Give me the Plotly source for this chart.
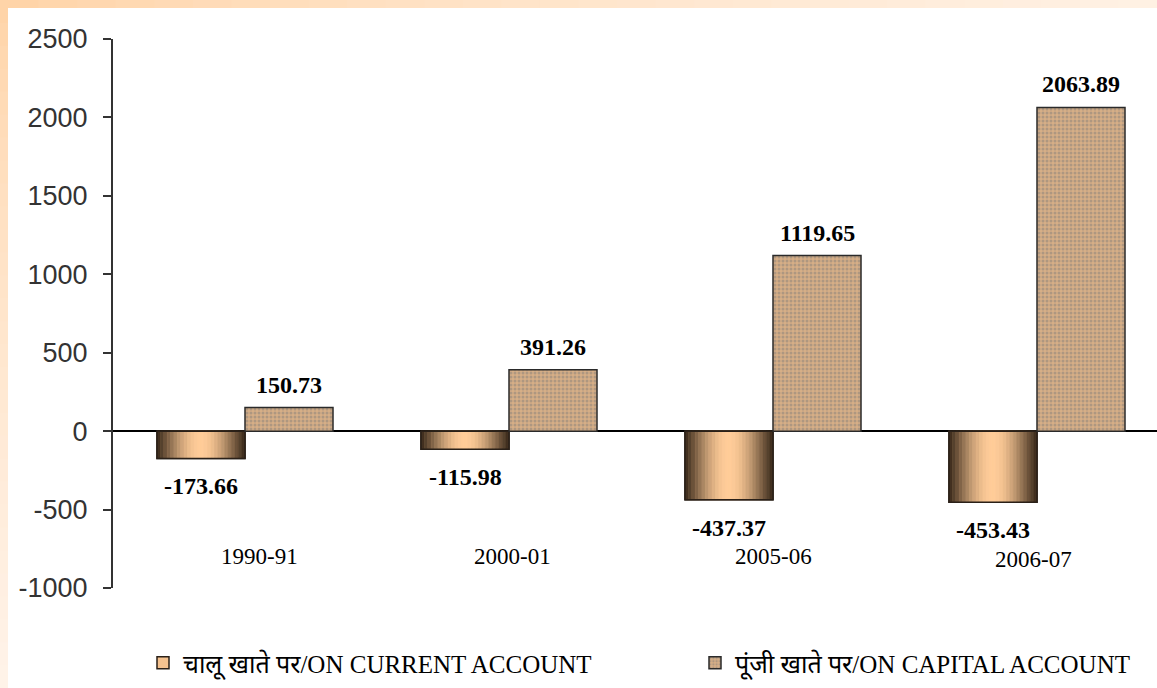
import math
import plotly.graph_objects as go

# ---------------- data ----------------
categories = ["1990-91", "2000-01", "2005-06", "2006-07"]
current_account = [-173.66, -115.98, -437.37, -453.43]
capital_account = [150.73, 391.26, 1119.65, 2063.89]
current_name = "चालू खाते पर/ON CURRENT ACCOUNT"
capital_name = "पूंजी खाते पर/ON CAPITAL ACCOUNT"
y_ticks = [-1000, -500, 0, 500, 1000, 1500, 2000, 2500]
y_tick_text = ["-1000", "-500", "0", "500", "1000", "1500", "2000", "2500"]

# ---------------- layout geometry ----------------
W, H = 1157, 688
ML, MR, MT, MB = 113, 0, 39, 100
PW, PH = W - ML - MR, H - MT - MB

def px2x(px):
    return (px - ML) / PW

def px2y(py):
    return (H - MB - py) / PH

xs = list(range(len(categories)))
BW = 1 / 3  # bar width in category units

fig = go.Figure()

dark = (58, 42, 27)
peach = (255, 204, 153)

# legend / base trace for current account
fig.add_trace(go.Bar(
    x=xs, y=current_account, offset=-BW, width=BW,
    name=current_name, legend="legend",
    marker=dict(color="#f5c28f", line=dict(color="#2a2018", width=1.5)),
    showlegend=True, hoverinfo="skip",
))

# gradient slices (cylinder shading)
N = 26
for k in range(N):
    t = (k + 0.5) / N
    f = math.sin(math.pi * t) ** 1.15
    c = tuple(int(round(dark[i] + (peach[i] - dark[i]) * f)) for i in range(3))
    col = "rgb(%d,%d,%d)" % c
    fig.add_trace(go.Bar(
        x=xs, y=current_account, offset=-BW + k * BW / N, width=BW / N,
        marker=dict(color=col, line=dict(color=col, width=0.6)),
        showlegend=False, hoverinfo="skip",
    ))

# outline on top
fig.add_trace(go.Bar(
    x=xs, y=current_account, offset=-BW, width=BW,
    marker=dict(color="rgba(0,0,0,0)", line=dict(color="#2a2018", width=1.5)),
    showlegend=False, hoverinfo="skip",
))

# capital account (patterned)
fig.add_trace(go.Bar(
    x=xs, y=capital_account, offset=0, width=BW,
    name=capital_name, legend="legend2",
    marker=dict(
        color="#d6ae86",
        line=dict(color="#2a2a2a", width=1.5),
        pattern=dict(shape=".", fgcolor="#85807a", bgcolor="#d6ae86",
                     size=4, solidity=0.45, fillmode="overlay"),
    ),
    showlegend=True, hoverinfo="skip",
))

annotations = []
# value labels
for i, v in enumerate(current_account):
    annotations.append(dict(
        x=i - BW / 2, y=v, xref="x", yref="y", text="<b>%.2f</b>" % v,
        showarrow=False, yanchor="middle", yshift=-28,
        font=dict(family="Liberation Serif", size=24, color="black"),
    ))
for i, v in enumerate(capital_account):
    annotations.append(dict(
        x=i + BW / 2, y=v, xref="x", yref="y", text="<b>%.2f</b>" % v,
        showarrow=False, yanchor="middle", yshift=23,
        font=dict(family="Liberation Serif", size=24, color="black"),
    ))
# category labels
cat_xshift = [14, 3, 0, -4]
cat_yshift = [0, 0, 0, -3]
for i, c in enumerate(categories):
    annotations.append(dict(
        x=i, y=-800, xref="x", yref="y", text=c, showarrow=False,
        xshift=cat_xshift[i], yshift=cat_yshift[i], yanchor="middle",
        font=dict(family="Liberation Serif", size=23, color="black"),
    ))

# decorative gradient frame (top and left bands)
shapes = []
c0 = (255, 210, 164)
c1 = (255, 241, 228)
c2 = (255, 243, 233)
S = 30
for k in range(S):
    f = ((k + 0.5) / S) ** 0.7
    col = "rgb(%d,%d,%d)" % tuple(int(round(c0[i] + (c1[i] - c0[i]) * f)) for i in range(3))
    x0p, x1p = k * W / S, (k + 1) * W / S + 1
    shapes.append(dict(type="rect", xref="paper", yref="paper",
                       x0=px2x(x0p), x1=px2x(x1p), y0=px2y(8), y1=px2y(0),
                       fillcolor=col, line=dict(width=0), layer="below"))
for k in range(S):
    f = ((k + 0.5) / S) ** 0.7
    col = "rgb(%d,%d,%d)" % tuple(int(round(c0[i] + (c2[i] - c0[i]) * f)) for i in range(3))
    y0p, y1p = k * H / S, (k + 1) * H / S + 1
    shapes.append(dict(type="rect", xref="paper", yref="paper",
                       x0=px2x(0), x1=px2x(8), y0=px2y(y1p), y1=px2y(y0p),
                       fillcolor=col, line=dict(width=0), layer="below"))

legend_font = dict(family="Liberation Serif, Noto Sans Devanagari, serif", size=25, color="black")
legend_common = dict(orientation="h", xanchor="left", yanchor="middle",
                     font=legend_font, bgcolor="rgba(0,0,0,0)",
                     itemclick=False, itemdoubleclick=False, borderwidth=0)

fig.update_layout(
    width=W, height=H, autosize=False,
    margin=dict(l=ML, r=MR, t=MT, b=MB, pad=0),
    paper_bgcolor="white", plot_bgcolor="rgba(0,0,0,0)",
    barmode="overlay",
    showlegend=True,
    legend=dict(x=px2x(143), y=px2y(663), **legend_common),
    legend2=dict(x=px2x(695), y=px2y(663), **legend_common),
    xaxis=dict(range=[-0.5, (W - ML) / 264 - 0.5], showticklabels=False,
               showgrid=False, zeroline=False, showline=False, ticks="",
               fixedrange=True, automargin=False),
    yaxis=dict(range=[-1000, 2500], tickvals=y_ticks, ticktext=y_tick_text,
               showgrid=False, automargin=False,
               zeroline=True, zerolinecolor="black", zerolinewidth=2,
               showline=True, linecolor="#333333", linewidth=2,
               ticks="outside", ticklen=8, tickwidth=2, tickcolor="#333333",
               ticklabelstandoff=10,
               tickfont=dict(family="Liberation Sans", size=27, color="#333333"),
               fixedrange=True),
    annotations=annotations,
    shapes=shapes,
)

fig.write_html("out.html", config={"displayModeBar": False},
               post_script="document.body.style.margin='0px';")
